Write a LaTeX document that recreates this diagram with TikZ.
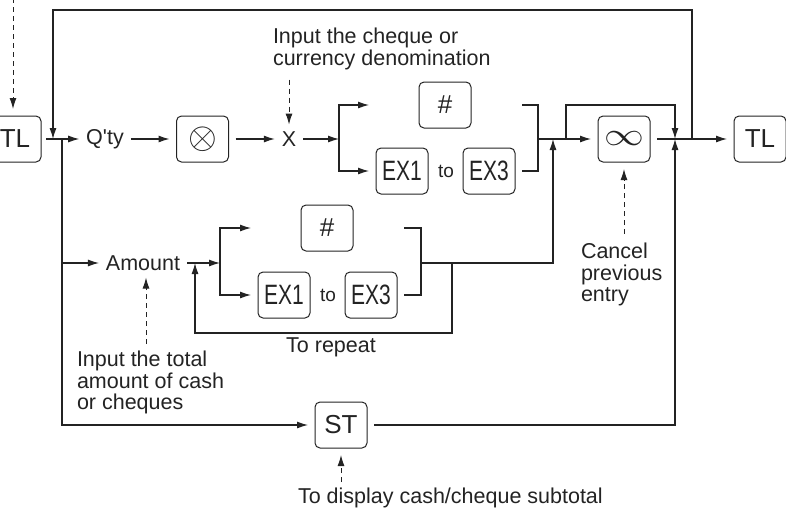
\documentclass[tikz,border=0pt]{standalone}
\usepackage{fontspec}
\setmainfont{Liberation Sans}
\usepackage{graphicx}
\usetikzlibrary{arrows.meta,positioning,calc}
\definecolor{inkGray}{RGB}{35,35,35}

\tikzset{
  keybox/.style={draw, rounded corners=5pt, minimum width=52pt, minimum height=46pt,
    inner sep=0pt, outer sep=7pt, line width=1pt, font=\fontsize{26}{26}\selectfont},
  txt/.style={inner sep=2pt, outer sep=5pt, font=\fontsize{21.5}{21.5}\selectfont},
  small/.style={inner sep=2pt, font=\fontsize{19}{19}\selectfont},
  note/.style={inner sep=0pt, outer sep=0pt, anchor=north west, align=left,
    font=\fontsize{21.5}{21.5}\selectfont},
  arr/.style={-{Latex[length=11pt,width=7pt]}, line width=1.1pt},
  dasharr/.style={-{Latex[length=11pt,width=7pt]}, line width=1pt, dash pattern=on 5pt off 4pt}
}
\newcommand{\exkey}[1]{\scalebox{0.75}[1]{\fontsize{28}{28}\selectfont #1}}
\newcommand{\hashkey}{\fontsize{26}{26}\selectfont\#}

\begin{document}
\begin{tikzpicture}[x=1pt, y=-1pt, color=inkGray]
    \useasboundingbox (0,0) rectangle (786,507);
    % Keys on the main line
    \node[keybox] (tlA) at (15,139) {TL};
    \node[txt] (qty) at (105,139) {Q\textquotesingle ty};
    \node[keybox] (mul) at (202.5,139) {\fontsize{10}{10}\selectfont\scalebox{3.7}{$\otimes$}};
    \node[txt] (x) at (289,139) {X};
    \node[keybox] (hashA) at (445,105) {\hashkey};
    \node[keybox] (exA1) at (402,171) {\exkey{EX1}};
    \node[small] (toA) at (446,171) {to};
    \node[keybox] (exA3) at (489,171) {\exkey{EX3}};
    \node[keybox] (cancel) at (624,139) {\scalebox{1.6}[1.3]{$\infty$}};
    \node[keybox] (tlB) at (760,139) {TL};
    % Keys on the amount line
    \node[txt] (amount) at (143,263) {Amount};
    \node[keybox] (hashB) at (327,228) {\hashkey};
    \node[keybox] (exB1) at (284,295) {\exkey{EX1}};
    \node[small] (toB) at (328,295) {to};
    \node[keybox] (exB3) at (371,295) {\exkey{EX3}};
    \node[txt] (repeat) at (331,347) {To repeat};
    % Subtotal key
    \node[keybox] (st) at (341,425) {ST};
    % Notes
    \node[note] (noteA) at (273,28) {Input the cheque or\\currency denomination};
    \node[note] (noteB) at (77,351) {Input the total\\amount of cash\\or cheques};
    \node[note] (noteC) at (581,243) {Cancel\\previous\\entry};
    \node[note] (noteD) at (298,488) {To display cash/cheque subtotal};
    % Junctions
    \coordinate (jTop) at (53,139);
    \coordinate (jA) at (62,139);
    \coordinate (bA) at (339,139);
    \coordinate (brA) at (538,139);
    \coordinate (jC) at (553,139);
    \coordinate (jD) at (566,139);
    \coordinate (jE) at (675,139);
    \coordinate (jF) at (692,139);
    \coordinate (bB) at (220,263);
    \coordinate (rB) at (195,263);
    \coordinate (brB) at (421,263);
    \coordinate (jR) at (452,263);
    % Main line
    \draw[arr] ([xshift=-2pt]tlA.east) -- (qty);
    \draw[arr] (qty) -- (mul);
    \draw[arr] (mul) -- (x);
    \draw[arr] (x) -- (bA);
    \draw[arr] (bA) |- (exA1.west |- hashA);
    \draw[arr] (bA) |- (exA1.west);
    \draw[line width=1.1pt] (exA3.east |- hashA) -| (brA) |- (exA3.east);
    \draw[arr] (brA) -- (cancel);
    \draw[arr] (jD) -- ++(0,-34) -| (jE);
    \draw[arr] (cancel) -- (tlB);
    \draw[arr] (jF) -- ++(0,-129) -| (jTop);
    % Amount line
    \draw[arr] (jA) |- (amount);
    \draw[arr] (amount) -- (bB);
    \draw[arr] (bB) |- (exB1.west |- hashB);
    \draw[arr] (bB) |- (exB1.west);
    \draw[line width=1.1pt] (exB3.east |- hashB) -| (brB) |- (exB3.east);
    \draw[arr] (brB) -| (jC);
    \draw[arr] (jR) -- ++(0,70) -| (rB);
    % Subtotal line
    \draw[arr] (jA) |- (st);
    \draw[arr] (st) -| (jE);
    % Dashed pointers
    \draw[dasharr] ([xshift=-2pt]tlA.north |- 0,-2) -- ([xshift=-2pt]tlA.north);
    \draw[dasharr, shorten <=10pt] (x |- noteA.south) -- (x);
    \draw[dasharr, shorten <=9pt] (cancel |- noteC.north) -- (cancel);
    \draw[dasharr, shorten <=7pt] ([xshift=3pt]amount.south |- noteB.north) -- ([xshift=3pt]amount.south);
    \draw[dasharr, shorten <=6pt] (st |- noteD.north) -- (st);
\end{tikzpicture}
\end{document}
